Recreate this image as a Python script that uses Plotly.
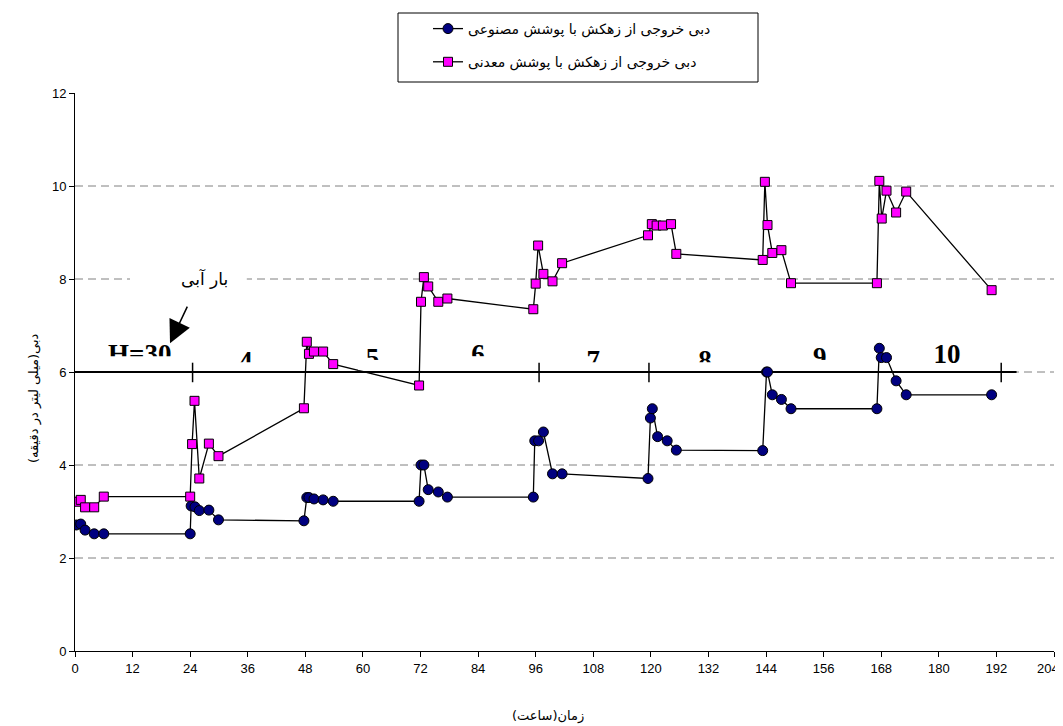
import plotly.graph_objects as go

# ---- data ----
t_synthetic = [0.3, 1.2, 2.1, 4, 6, 24, 24.2, 25, 25.9, 27.9, 29.9,
               47.7, 48.3, 48.75, 49.8, 51.7, 53.8,
               71.7, 72.1, 72.7, 73.6, 75.7, 77.6,
               95.5, 95.8, 96.6, 97.6, 99.5, 101.5,
               119.4, 119.9, 120.3, 121.4, 123.4, 125.3,
               143.3, 144.1, 144.3, 145.3, 147.2, 149.2,
               167.1, 167.6, 168.0, 169.1, 171.1, 173.2, 191]
q_synthetic = [2.71, 2.73, 2.6, 2.52, 2.52, 2.52, 3.12, 3.1, 3.02, 3.03, 2.82,
               2.8, 3.3, 3.3, 3.27, 3.25, 3.22,
               3.22, 4.0, 4.0, 3.47, 3.42, 3.31,
               3.31, 4.52, 4.52, 4.71, 3.81, 3.81,
               3.71, 5.01, 5.21, 4.61, 4.52, 4.32,
               4.31, 6.0, 6.0, 5.51, 5.41, 5.21,
               5.21, 6.51, 6.31, 6.31, 5.81, 5.51, 5.51]

t_mineral = [0.3, 1.2, 2.1, 4, 6, 24, 24.4, 24.9, 25.9, 27.9, 29.9,
             47.7, 48.3, 48.75, 49.8, 51.7, 53.8,
             71.7, 72.1, 72.7, 73.6, 75.7, 77.6,
             95.5, 96, 96.5, 97.6, 99.5, 101.5,
             119.4, 120.2, 121.2, 122.5, 124.2, 125.3,
             143.3, 143.75, 144.3, 145.3, 147.2, 149.2,
             167.1, 167.6, 168.1, 169.1, 171.1, 173.2, 191]
q_mineral = [3.21, 3.25, 3.09, 3.09, 3.32, 3.32, 4.45, 5.38, 3.71, 4.46, 4.19,
             5.22, 6.65, 6.39, 6.44, 6.44, 6.17,
             5.71, 7.51, 8.04, 7.84, 7.51, 7.58,
             7.35, 7.9, 8.72, 8.11, 7.95, 8.34,
             8.94, 9.18, 9.15, 9.15, 9.18, 8.54,
             8.41, 10.09, 9.16, 8.56, 8.62, 7.91,
             7.91, 10.11, 9.3, 9.9, 9.43, 9.88, 7.76]

name_synthetic = "دبی خروجی از زهکش با پوشش مصنوعی"
name_mineral = "دبی خروجی از زهکش با پوشش معدنی"

x_ticks = list(range(0, 205, 12))
x_tick_text = [str(v) for v in x_ticks[:-1]] + [""]   # last label drawn separately at the edge
x_last_label = str(x_ticks[-1])
y_ticks = list(range(0, 13, 2))
grid_levels = [2, 4, 6, 8, 10]

# head (water load) marker line
head_level = 6
head_line_end = 196.2
head_ticks = [24.5, 96.7, 119.6, 193]
head_labels = ["H=30", "4", "5", "6", "7", "8", "9", "10"]
head_label_t = [13.5, 35.6, 62, 84, 108, 131.3, 155.2, 181.7]
head_label_v = [6.33, 6.18, 6.26, 6.33, 6.2, 6.2, 6.28, 6.34]
head_label_clip = [6.34, 6.21, 6.26, 6.34, 6.21, 6.21, 6.26, None]
head_label_halfw = [8, 3, 3, 3, 3, 3, 3, 4]

fig = go.Figure()

fig.add_trace(go.Scatter(
    x=t_synthetic, y=q_synthetic, mode="lines+markers", name=name_synthetic,
    line=dict(color="black", width=1.3),
    marker=dict(symbol="circle", size=10, color="#000080",
                line=dict(color="black", width=1)),
    legendgroup="a"))
fig.add_trace(go.Scatter(
    x=t_mineral, y=q_mineral, mode="lines+markers", name=name_mineral,
    line=dict(color="black", width=1.3),
    marker=dict(symbol="square", size=9, color="#FF00FF",
                line=dict(color="black", width=1)),
    legendgroup="b"))

# stage labels as text trace (so their bottoms can be masked)
fig.add_trace(go.Scatter(
    x=head_label_t, y=head_label_v, mode="text", text=head_labels,
    textposition="middle center", showlegend=False, hoverinfo="skip",
    textfont=dict(family="Liberation Serif, Times New Roman, serif", size=27,
                  color="black", weight="bold")))

# plot area in page pixels: x 75..1054, y 93..651
def px_x(p):
    return (p - 75) / 979.0


def px_y(p):
    return (651 - p) / 558.0


shapes = []
for g in grid_levels:
    shapes.append(dict(type="line", xref="x", yref="y", x0=0, x1=204, y0=g, y1=g,
                       line=dict(color="#808080", width=1, dash="8px,5px"),
                       layer="below"))
# white box behind the "بار آبی" label
shapes.append(dict(type="rect", xref="x", yref="y", x0=11.46, x1=35.8, y0=7.8, y1=8.25,
                   fillcolor="white", line=dict(width=0), layer="between"))
shapes.append(dict(type="line", xref="x", yref="y", x0=0, x1=head_line_end,
                   y0=head_level, y1=head_level,
                   line=dict(color="black", width=2), layer="between"))
for ht in head_ticks:
    shapes.append(dict(type="line", xref="x", yref="y", x0=ht, x1=ht,
                       y0=head_level - 0.22, y1=head_level + 0.2,
                       line=dict(color="black", width=1.5), layer="between"))
for t, c, hw in zip(head_label_t, head_label_clip, head_label_halfw):
    if c is None:
        continue
    shapes.append(dict(type="rect", xref="x", yref="y", x0=t - hw, x1=t + hw,
                       y0=head_level + 0.04, y1=c, fillcolor="white",
                       line=dict(width=0), layer="above"))
# legend frame
shapes.append(dict(type="rect", xref="paper", yref="paper",
                   x0=px_x(398), x1=px_x(758), y0=px_y(82), y1=px_y(13),
                   line=dict(color="black", width=1), fillcolor="rgba(0,0,0,0)",
                   layer="above"))

annotations = [
    dict(x=26.9, y=8.02, xref="x", yref="y", text="بار آبی", showarrow=False,
         font=dict(family="Tahoma, DejaVu Sans", size=17, color="black")),
    dict(x=19.8, y=6.62, xref="x", yref="y", text="", showarrow=True,
         ax=18, ay=-38, arrowhead=2, arrowsize=3, arrowwidth=1.5,
         arrowcolor="black"),
    dict(x=px_x(548), y=px_y(716), xref="paper", yref="paper", text="زمان(ساعت)",
         xanchor="center", yanchor="middle",
         showarrow=False, font=dict(family="Tahoma, DejaVu Sans", size=13, color="black")),
    dict(x=px_x(34), y=px_y(398), xref="paper", yref="paper",
         xanchor="center", yanchor="middle",
         text="دبی(میلی لیتر در دقیقه)", textangle=-90, showarrow=False,
         font=dict(family="Tahoma, DejaVu Sans", size=13, color="black")),
    dict(x=px_x(1061), y=px_y(668), xref="paper", yref="paper", text=x_last_label,
         xanchor="right", yanchor="middle", showarrow=False,
         font=dict(family="Liberation Sans Narrow, Arial Narrow, Liberation Sans",
                   size=13, color="black")),
]

# page has an 8px body margin: shrink the figure so the plot lands where intended
fig.update_layout(
    width=1055, height=718,
    margin=dict(l=67, r=9, t=85, b=75, autoexpand=False),
    plot_bgcolor="white", paper_bgcolor="white",
    shapes=shapes, annotations=annotations,
    legend=dict(x=px_x(428), y=px_y(13), xanchor="left", yanchor="top",
                borderwidth=0, bgcolor="rgba(0,0,0,0)",
                tracegroupgap=12,
                font=dict(family="Tahoma, DejaVu Sans", size=14, color="black")),
    xaxis=dict(range=[0, 204], tickvals=x_ticks, ticktext=x_tick_text,
               showgrid=False, zeroline=False,
               showline=True, linecolor="black", linewidth=1,
               ticks="outside", ticklen=5, tickcolor="black",
               automargin=False,
               tickfont=dict(family="Liberation Sans Narrow, Arial Narrow, Liberation Sans",
                             size=13, color="black")),
    yaxis=dict(range=[0, 12], tickvals=y_ticks, showgrid=False, zeroline=False,
               showline=True, linecolor="black", linewidth=1,
               ticks="outside", ticklen=5, tickcolor="black", automargin=False,
               tickfont=dict(family="Liberation Sans, Arial", size=13, color="black")),
)

fig.write_html("out.html")
